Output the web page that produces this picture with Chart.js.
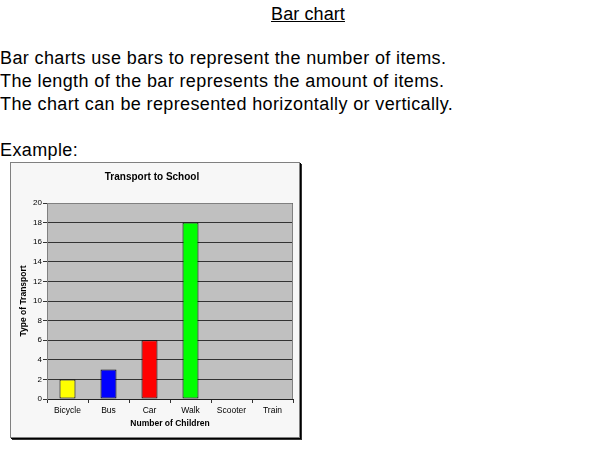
<!DOCTYPE html>
<html>
<head>
<meta charset="utf-8">
<script src="https://cdn.jsdelivr.net/npm/chart.js@4.4.0/dist/chart.umd.min.js"></script>
<style>
    body { margin: 0; background: #fff; font-family: "Liberation Sans", Arial, sans-serif; color: #000; }
    .heading { position: absolute; left: 0; top: 3px; width: 616px; text-align: center; font-size: 18px; line-height: 23px; text-decoration: underline; letter-spacing: 0.1px; }
    .intro { position: absolute; left: 0; top: 47px; font-size: 18px; line-height: 23px; white-space: nowrap; letter-spacing: 0.38px; }
    .chart-box { position: absolute; left: 10px; top: 162px; width: 288px; height: 274px; border: 1px solid #808080; background: #f7f7f7; box-shadow: 1px 1px 0 #000, 2px 2px 0 #333; }
    .chart-box canvas { display: block; }
</style>
</head>
<body>
<div class="heading">Bar chart</div>
<div class="intro">
    Bar charts use bars to represent the number of items.<br>
    The length of the bar represents the amount of items.<br>
    The chart can be represented horizontally or vertically.<br>
    <br>
    Example:
</div>
<div class="chart-box"><canvas id="transportChart" width="288" height="274"></canvas></div>

<script>
// Chart data
const categories = ['Bicycle', 'Bus', 'Car', 'Walk', 'Scooter', 'Train'];
const children = [2, 3, 6, 18, 0, 0];
const barColors = ['#ffff00', '#0000ff', '#ff0000', '#00ff00', '#ff00ff', '#00ffff'];
const yMin = 0;
const yMax = 20;
const yStep = 2;

// Grey plot area with a thin border, like the spreadsheet chart
const plotBackground = {
    id: 'plotBackground',
    beforeDraw(chart) {
        const { ctx, chartArea: a } = chart;
        ctx.save();
        ctx.fillStyle = '#c0c0c0';
        ctx.fillRect(a.left, a.top, a.right - a.left, a.bottom - a.top);
        ctx.restore();
    },
    afterDatasetsDraw(chart) {
        const { ctx, chartArea: a } = chart;
        ctx.save();
        ctx.strokeStyle = '#808080';
        ctx.lineWidth = 1;
        ctx.beginPath();
        ctx.moveTo(a.left, a.top + 0.5);
        ctx.lineTo(a.right - 0.5, a.top + 0.5);
        ctx.lineTo(a.right - 0.5, a.bottom);
        ctx.stroke();
        ctx.restore();
    }
};

function initializeChart() {
    const ctx = document.getElementById('transportChart').getContext('2d');
    new Chart(ctx, {
        type: 'bar',
        data: {
            labels: categories,
            datasets: [{
                label: 'Number of Children',
                data: children,
                backgroundColor: barColors,
                borderColor: '#000',
                borderWidth: ctx2 => (ctx2.raw ? 1 : 0),
                borderSkipped: false,
                categoryPercentage: 1,
                barPercentage: 0.39
            }]
        },
        options: {
            responsive: false,
            animation: false,
            devicePixelRatio: 1,
            layout: { padding: { left: 0, right: 6, top: 0, bottom: 0 } },
            plugins: {
                legend: { display: false },
                tooltip: { enabled: false },
                title: {
                    display: true,
                    text: 'Transport to School',
                    color: '#000',
                    font: { family: 'Liberation Sans', size: 10, weight: 'bold' },
                    padding: { top: 8, bottom: 20 }
                }
            },
            scales: {
                x: {
                    afterFit: scale => { scale.height = 38; },
                    grid: {
                        display: true,
                        drawOnChartArea: false,
                        drawTicks: true,
                        tickLength: 4,
                        color: '#333'
                    },
                    border: { display: true, color: '#222', width: 1 },
                    ticks: {
                        color: '#000',
                        padding: 2.6,
                        maxRotation: 0,
                        font: { family: 'Liberation Sans', size: 8.5 }
                    },
                    title: {
                        display: true,
                        text: 'Number of Children',
                        color: '#000',
                        font: { family: 'Liberation Sans', size: 8.5, weight: 'bold' },
                        padding: { top: 0, bottom: 7.9 }
                    }
                },
                y: {
                    min: yMin,
                    max: yMax,
                    afterFit: scale => { scale.width = 36; },
                    grid: {
                        color: '#333',
                        tickLength: 4,
                        drawTicks: true
                    },
                    border: { display: true, color: '#808080', width: 1 },
                    ticks: {
                        stepSize: yStep,
                        color: '#000',
                        padding: 1,
                        font: { family: 'Liberation Sans', size: 8 }
                    },
                    title: {
                        display: true,
                        text: 'Type of Transport',
                        color: '#000',
                        font: { family: 'Liberation Sans', size: 8.5, weight: 'bold' },
                        padding: { top: 7.9, bottom: 0 }
                    }
                }
            }
        },
        plugins: [plotBackground]
    });
}

document.addEventListener('DOMContentLoaded', initializeChart);
</script>
</body>
</html>
